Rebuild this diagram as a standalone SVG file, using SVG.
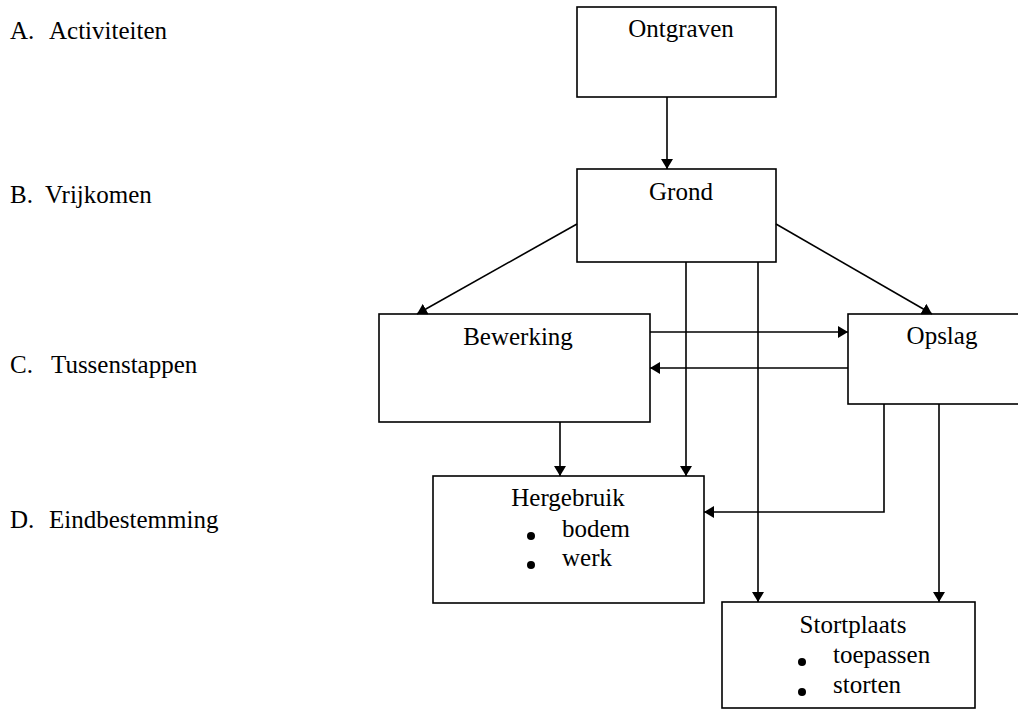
<svg xmlns="http://www.w3.org/2000/svg" width="1018" height="726" viewBox="0 0 1018 726">
<style>
text{font-family:"Liberation Serif","Times New Roman",serif;font-size:25px;fill:#000}
.t{text-anchor:middle}
.box{fill:#fff;stroke:#000;stroke-width:1.6}
.c{fill:none;stroke:#000;stroke-width:1.6}
</style>
<defs>
<marker id="ah" markerUnits="userSpaceOnUse" markerWidth="11" markerHeight="12" refX="10" refY="6" orient="auto">
<path d="M0,0 L10,6 L0,12 z" fill="#000"/>
</marker>
</defs>
<rect width="1018" height="726" fill="#fff"/>
<g id="labels">
<text x="10" y="39">A.</text><text x="49" y="39">Activiteiten</text>
<text x="10" y="203">B.</text><text x="45" y="203">Vrijkomen</text>
<text x="10" y="373">C.</text><text x="51" y="373">Tussenstappen</text>
<text x="10" y="528">D.</text><text x="49" y="528">Eindbestemming</text>
</g>
<g id="ontgraven"><rect class="box" x="577" y="7" width="199" height="90"/><text class="t" x="681" y="37">Ontgraven</text></g>
<g id="grond"><rect class="box" x="577" y="169" width="199" height="93"/><text class="t" x="681" y="200">Grond</text></g>
<g id="bewerking"><rect class="box" x="379" y="314" width="271" height="108"/><text class="t" x="518" y="345">Bewerking</text></g>
<g id="opslag"><rect class="box" x="848" y="314" width="190" height="90"/><text class="t" x="942" y="344">Opslag</text></g>
<g id="hergebruik"><rect class="box" x="433" y="476" width="271" height="127"/><text class="t" x="568" y="506">Hergebruik</text>
<circle cx="531" cy="536" r="4"/><text x="562" y="537">bodem</text>
<circle cx="531" cy="565" r="4"/><text x="562" y="566">werk</text></g>
<g id="stortplaats"><rect class="box" x="722" y="602" width="253" height="106"/><text class="t" x="853" y="633">Stortplaats</text>
<circle cx="802" cy="662" r="4"/><text x="833" y="663">toepassen</text>
<circle cx="802" cy="692" r="4"/><text x="833" y="693">storten</text></g>
<g id="connectors" class="c" marker-end="url(#ah)">
<path class="c" marker-end="url(#ah)" d="M667,97 V169"/>
<path class="c" marker-end="url(#ah)" d="M577,224 L417,314"/>
<path class="c" marker-end="url(#ah)" d="M776,224 L932,314"/>
<path class="c" marker-end="url(#ah)" d="M650,332 H848"/>
<path class="c" marker-end="url(#ah)" d="M848,368 H650"/>
<path class="c" marker-end="url(#ah)" d="M686,262 V476"/>
<path class="c" marker-end="url(#ah)" d="M758,262 V602"/>
<path class="c" marker-end="url(#ah)" d="M560,422 V476"/>
<path class="c" marker-end="url(#ah)" d="M884,404 V512 H704"/>
<path class="c" marker-end="url(#ah)" d="M939,404 V602"/>
</g>
</svg>
